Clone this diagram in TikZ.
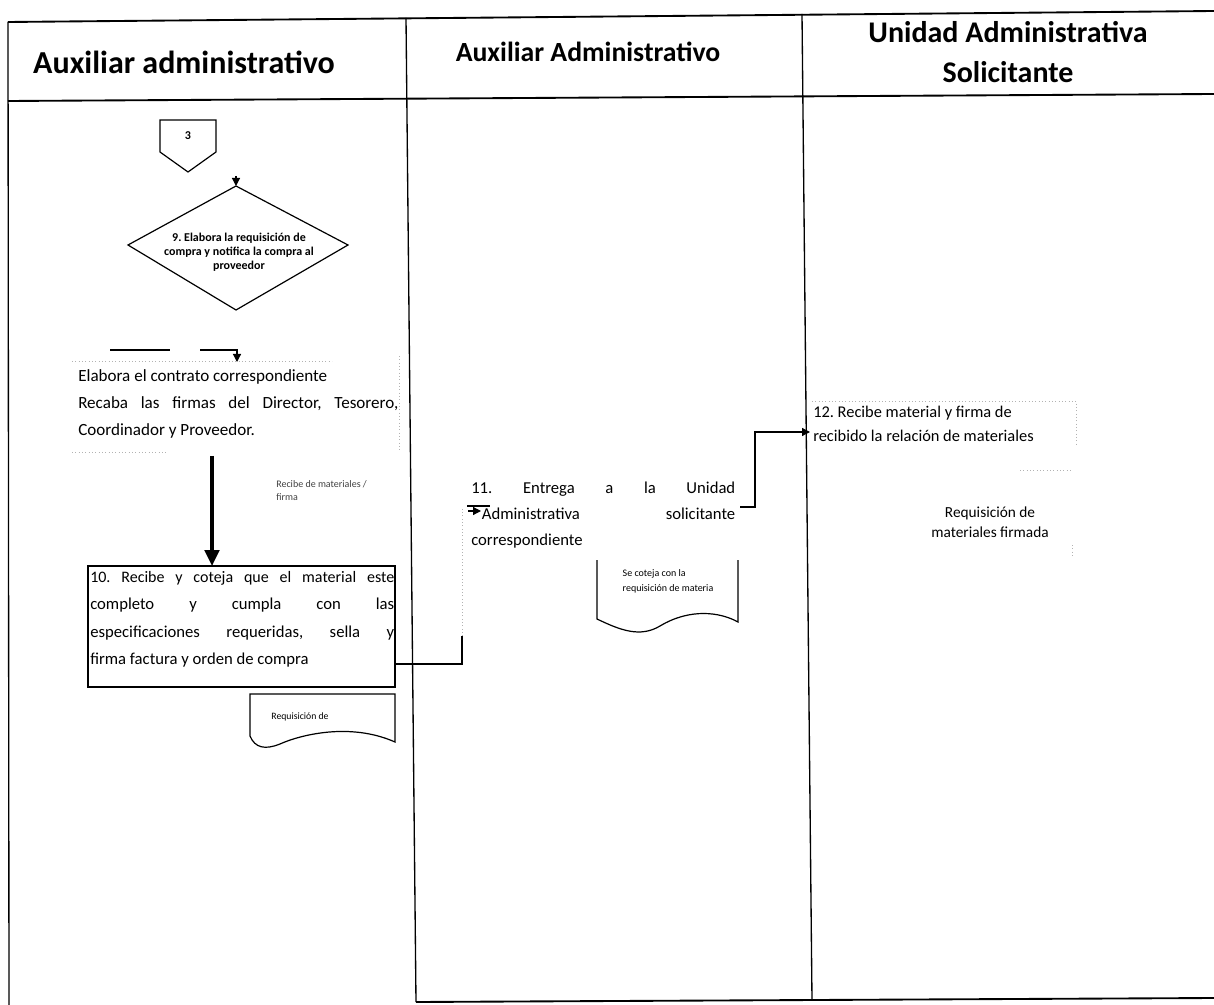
\documentclass[tikz,border=0pt]{standalone}
\usepackage{fontspec}
\setmainfont{Carlito}
\usetikzlibrary{arrows.meta}
\frenchspacing

\begin{document}
\begin{tikzpicture}[x=0.75pt,y=-0.75pt,
  lane/.style={line width=1pt},
  headline/.style={line width=1.4pt},
  conn/.style={line width=0.9pt},
  tip/.style={-{Triangle[length=6pt,width=6pt]}},
  bigtip/.style={-{Triangle[length=12pt,width=11pt]}},
  faint/.style={gray!60,dotted,line width=0.5pt},
  head/.style={font=\bfseries\fontsize{24}{30}\selectfont},
  txt/.style={inner sep=0pt,anchor=north west,align=left},
  docshape/.style={line width=0.9pt}
]
\useasboundingbox (0,0) rectangle (1214,1005);

% ---- swimlane frame ----
\draw[headline] (8,22) -- (1214,11);
\draw[headline] (8,101) -- (1214,94);
\draw[lane] (8,22) -- (9,1005);
\draw[lane] (406,18) -- (416,1002);
\draw[lane] (802,14) -- (812,1000);
\draw[headline] (416,1002) -- (1214,998);

% ---- lane headers ----
\node[head] (h1) at (184,62) {Auxiliar administrativo};
\node[head,font=\bfseries\fontsize{20.8}{26}\selectfont] (h2) at (588,52) {Auxiliar Administrativo};
\node[head,align=center,font=\bfseries\fontsize{22.5}{30}\selectfont] (h3) at (1008,52) {Unidad Administrativa\\Solicitante};

% ---- off-page connector 3 ----
\draw[conn] (160,120) -- (216,120) -- (216,152) -- (188,172) -- (160,152) -- cycle;
\node[font=\bfseries\fontsize{9}{10}\selectfont] (p3) at (188,136) {3};

% ---- decision 9 ----
\coordinate (dtop) at (236,186);
\coordinate (dright) at (348,245);
\coordinate (dbot) at (236,310);
\coordinate (dleft) at (128,245);
\draw[conn] (dtop) -- (dright) -- (dbot) -- (dleft) -- cycle;
\node[align=center,inner sep=0pt,font=\bfseries\fontsize{9}{10.5}\selectfont] (d9) at (239,252)
  {9. Elabora la requisición de\\compra y notifica la compra al\\proveedor};
\coordinate (din) at (236,176);
\draw[conn,tip] (din) -- (dtop);

% ---- contract step ----
\draw[faint] (72,361) -- (332,361);
\draw[faint] (72,452) -- (168,452);
\draw[faint] (399,356) -- (399,452);
\node[txt,font=\fontsize{12.8}{20.25}\selectfont] (ct) at (78,369)
  {Elabora el contrato correspondiente\\
   \makebox[240pt][s]{Recaba las firmas del Director, Tesorero,}\\
   Coordinador y Proveedor.};
\coordinate (ca) at (110,350);
\coordinate (cb) at (170,350);
\coordinate (cc) at (200,350);
\coordinate (cd) at (237,350);
\coordinate (cin) at (237,362);
\draw[conn] (ca) -- (cb);
\draw[conn,tip] (cc) -- (cd) -- (cin);

% ---- thick arrow to step 10 ----
\coordinate (cout) at (212,456);
\coordinate (b10in) at (212,566);
\draw[line width=2.4pt,bigtip] (cout) -- (b10in);

\node[inner sep=0pt,anchor=north west,align=left,font=\fontsize{7.5}{10}\selectfont,text=black!75] (rm) at (276,480)
  {Recibe de materiales /\\firma};

% ---- step 10 box ----
\draw[line width=1.6pt] (88,566) rectangle (395,687);
\coordinate (b10out) at (395,664);
\node[txt,font=\fontsize{12.5}{20.6}\selectfont] (t10) at (90,571)
  {\makebox[228pt][s]{\fontsize{12}{13}\selectfont 10. Recibe y coteja que el material este}\\
   \makebox[228pt][s]{completo y cumpla con las}\\
   \makebox[228pt][s]{especificaciones requeridas, sella y}\\
   firma factura y orden de compra};

% ---- document under step 10 ----
\draw[docshape] (250,694) -- (395,694) -- (395,742)
   .. controls (350,722) and (300,735) .. (280,744)
   .. controls (265,750) and (255,748) .. (250,736) -- cycle;
\node[font=\fontsize{7.3}{8}\selectfont] (doc1) at (300,717) {Requisición de};

% ---- connector 10 -> 11 ----
\coordinate (k1) at (462,664);
\coordinate (k2) at (462,507);
\coordinate (s11in) at (481,511);
\draw[conn] (b10out) -- (k1) -- (462,636);
\draw[faint] (462,636) -- (k2);
\draw[conn] (467,506) -- (490,506);
\draw[conn,tip] (468,511) -- (s11in);

% ---- step 11 ----
\node[txt,font=\fontsize{12.5}{19.5}\selectfont] (t11) at (471,482)
  {\makebox[198pt][s]{11. Entrega a la Unidad}\\
   \hspace*{8pt}\makebox[190pt][s]{Administrativa solicitante}\\
   correspondiente};

% ---- document under step 11 ----
\draw[docshape] (597,560) -- (597,619)
   .. controls (620,630) and (640,638) .. (660,626)
   .. controls (690,608) and (720,612) .. (738,622) -- (738,560);
\node[align=left,inner sep=0pt,font=\fontsize{7.5}{11}\selectfont] (doc2) at (668,581)
  {Se coteja con la\\requisición de materia};

% ---- connector 11 -> 12 ----
\coordinate (s11out) at (740,507);
\coordinate (m1) at (755,507);
\coordinate (m2) at (755,432);
\coordinate (s12in) at (810,432);
\draw[conn,tip] (s11out) -- (m1) -- (m2) -- (s12in);

% ---- step 12 ----
\draw[faint] (812,401) -- (1076,401) -- (1076,446);
\node[txt,font=\fontsize{12.3}{18}\selectfont] (t12) at (813,406)
  {12. Recibe material y firma de\\recibido la relación de materiales};

\draw[faint] (1020,470) -- (1072,470);
\draw[faint] (1072,545) -- (1072,556);
\node[align=center,inner sep=0pt,font=\fontsize{11.5}{15}\selectfont] (rq) at (990,522)
  {Requisición de\\materiales firmada};

\end{tikzpicture}
\end{document}
